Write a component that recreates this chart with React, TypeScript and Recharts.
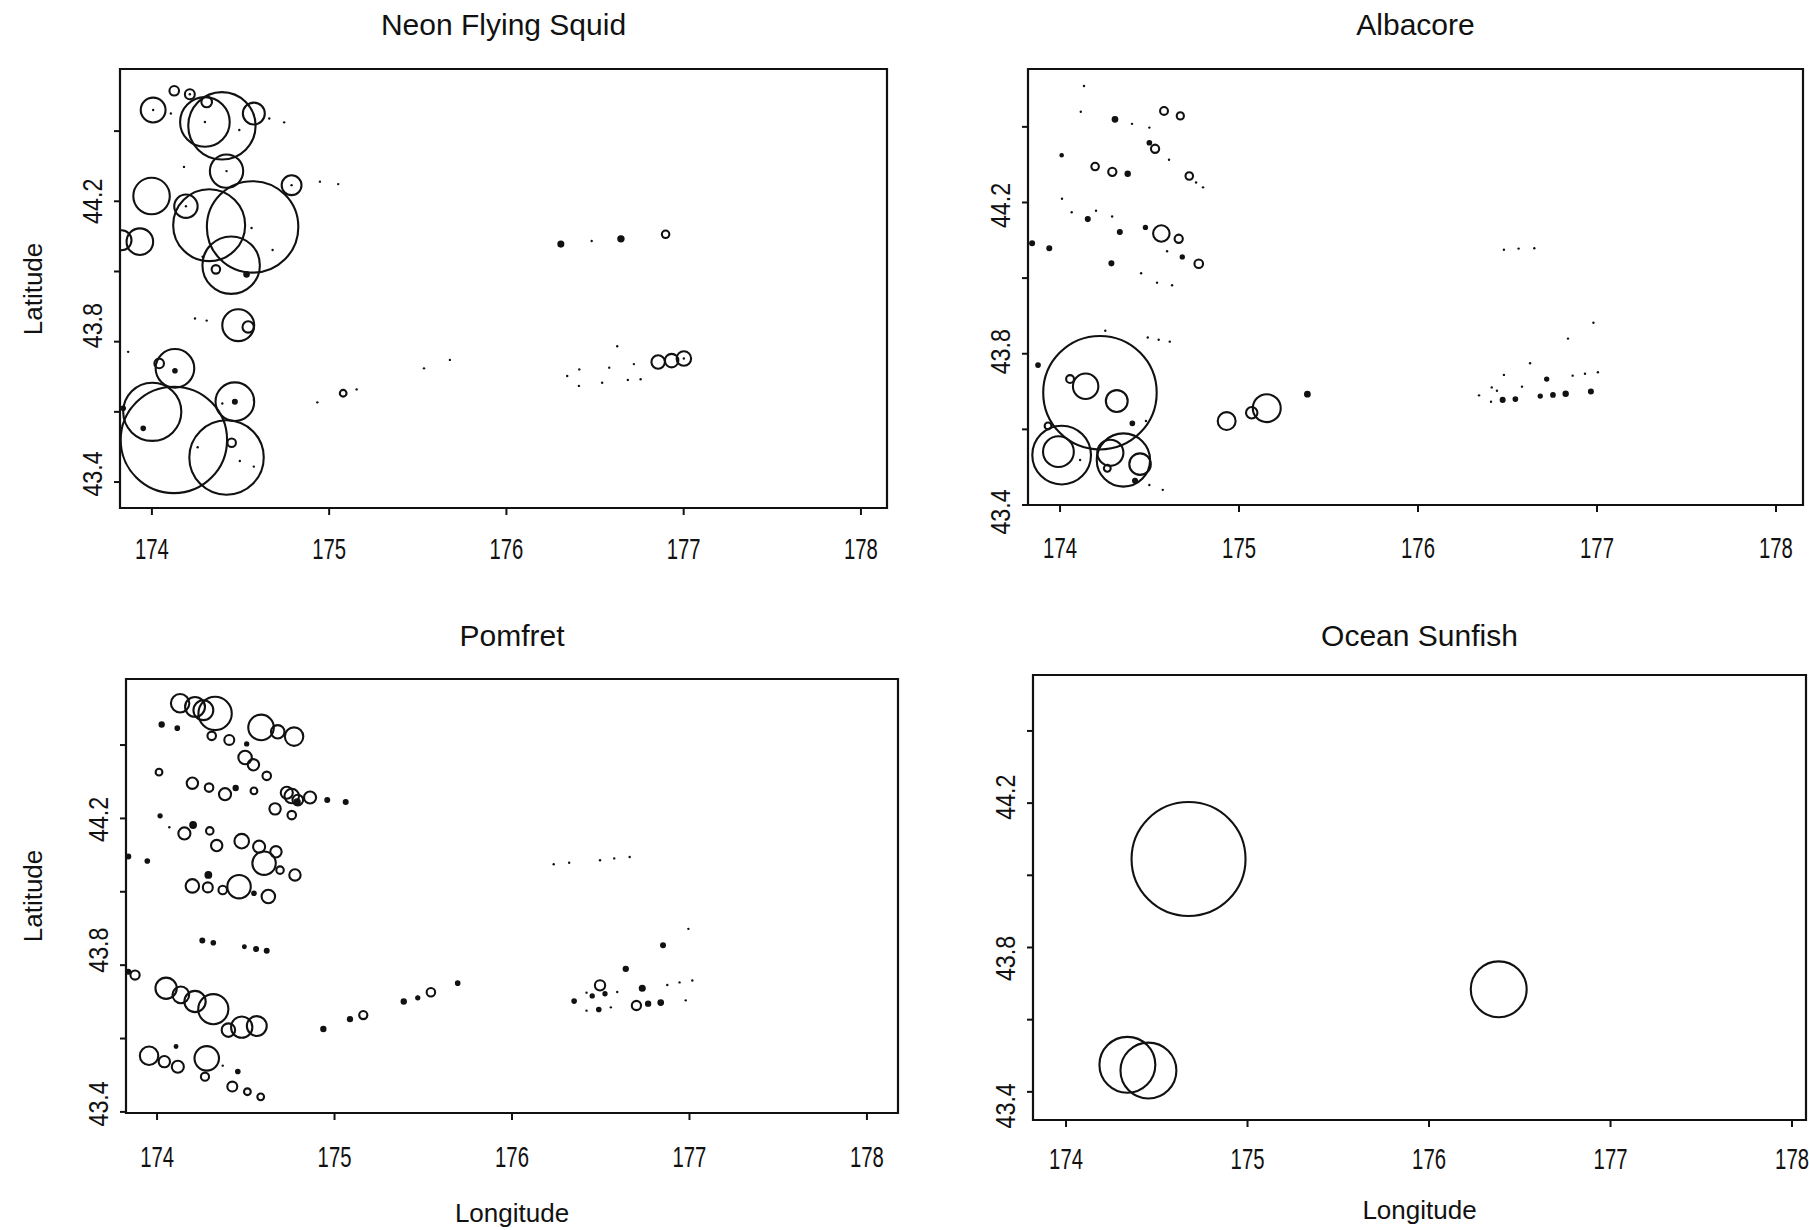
import React from 'react';
import { ScatterChart, Scatter, XAxis, YAxis, ReferenceArea } from 'recharts';

// [longitude, latitude, catch] - catch drawn as circle radius (0.01 deg of longitude)
const squid = [
  [174.126, 44.515, 2.7], [174.214, 44.505, 2.8], [174.214, 44.505, 0.9], [174.007, 44.46, 7.0],
  [174.007, 44.46, 0.5], [174.107, 44.45, 0.5], [174.299, 44.426, 14.0], [174.395, 44.415, 19.0],
  [174.309, 44.483, 3.0], [174.299, 44.426, 0.6], [174.493, 44.403, 0.5], [174.575, 44.45, 6.2],
  [174.662, 44.436, 0.5], [174.746, 44.425, 0.5], [174.181, 44.298, 0.5], [174.421, 44.286, 9.4],
  [174.421, 44.286, 0.5], [174.788, 44.246, 5.6], [174.788, 44.246, 0.6], [174.948, 44.256, 0.4],
  [175.051, 44.249, 0.4], [173.998, 44.215, 10.3], [174.192, 44.186, 6.6], [174.192, 44.186, 0.5],
  [174.323, 44.132, 20.3], [174.568, 44.127, 25.8], [174.562, 44.124, 0.6], [174.447, 44.018, 16.2],
  [174.361, 44.006, 2.4], [174.534, 43.992, 1.5], [174.681, 44.061, 0.5], [174.286, 44.042, 0.5],
  [173.932, 44.085, 7.5], [173.829, 44.089, 5.6], [174.243, 43.866, 0.5], [174.309, 43.86, 0.5],
  [174.487, 43.847, 9.0], [174.543, 43.842, 3.2], [173.866, 43.771, 0.5], [174.13, 43.724, 10.9],
  [174.13, 43.717, 1.2], [174.041, 43.738, 2.7], [174.002, 43.6, 16.4], [174.124, 43.52, 30.0],
  [174.421, 43.47, 21.0], [174.468, 43.629, 10.9], [174.468, 43.629, 1.3], [174.45, 43.512, 2.4],
  [173.951, 43.553, 1.2], [174.258, 43.499, 0.5], [174.496, 43.46, 0.5], [174.575, 43.444, 0.5],
  [174.397, 43.624, 0.5], [174.575, 43.634, 0.6], [173.838, 43.61, 1.2], [175.079, 43.653, 1.9],
  [175.155, 43.664, 0.5], [174.933, 43.627, 0.5], [176.307, 44.078, 1.6], [176.481, 44.087, 0.4],
  [176.646, 44.093, 1.7], [176.898, 44.106, 2.1], [175.535, 43.724, 0.9], [175.681, 43.748, 0.9],
  [176.625, 43.787, 0.4], [176.411, 43.721, 0.4], [176.58, 43.726, 0.4], [176.719, 43.736, 0.5],
  [176.343, 43.702, 0.4], [176.409, 43.674, 0.4], [176.54, 43.683, 0.5], [176.685, 43.691, 0.5],
  [176.757, 43.693, 0.5], [176.856, 43.742, 3.8], [176.932, 43.746, 3.8], [177.001, 43.752, 4.1],
  [177.001, 43.752, 0.5],
];

const albacore = [
  [174.134, 44.508, 0.5], [174.116, 44.44, 0.4], [174.307, 44.42, 1.5], [174.402, 44.408, 0.5],
  [174.499, 44.398, 0.5], [174.581, 44.442, 2.2], [174.672, 44.429, 2.0], [174.009, 44.325, 0.9],
  [174.196, 44.295, 2.1], [174.292, 44.281, 2.3], [174.378, 44.276, 1.4], [174.499, 44.358, 1.2],
  [174.531, 44.342, 2.3], [174.609, 44.313, 0.5], [174.722, 44.27, 2.1], [174.76, 44.253, 0.6],
  [174.799, 44.24, 0.5], [174.011, 44.21, 0.7], [174.065, 44.174, 0.5], [174.201, 44.178, 0.5],
  [174.291, 44.163, 0.6], [174.155, 44.156, 1.3], [174.334, 44.122, 1.3], [174.477, 44.134, 1.1],
  [174.566, 44.118, 4.6], [174.663, 44.104, 2.3], [174.598, 44.071, 0.6], [174.683, 44.056, 1.1],
  [174.775, 44.038, 2.4], [173.844, 44.092, 1.3], [173.94, 44.079, 1.3], [174.287, 44.039, 1.3],
  [174.453, 44.013, 0.5], [174.542, 43.988, 0.5], [174.626, 43.981, 0.5], [174.253, 43.861, 0.4],
  [174.49, 43.843, 0.5], [174.551, 43.837, 0.6], [174.613, 43.832, 0.6], [173.877, 43.77, 1.2],
  [174.223, 43.697, 31.7], [174.056, 43.733, 2.2], [174.143, 43.714, 7.1], [174.317, 43.675, 6.1],
  [174.404, 43.616, 1.2], [174.48, 43.622, 0.6], [173.933, 43.609, 1.9], [174.009, 43.532, 16.4],
  [173.991, 43.541, 8.6], [174.112, 43.519, 0.5], [174.354, 43.519, 14.9], [174.281, 43.538, 7.3],
  [174.447, 43.508, 6.0], [174.264, 43.497, 1.9], [174.419, 43.464, 1.3], [174.499, 43.453, 0.5],
  [174.574, 43.44, 0.5], [174.931, 43.622, 5.0], [175.155, 43.656, 7.8], [175.071, 43.644, 3.2],
  [175.382, 43.693, 1.5], [176.48, 44.075, 0.4], [176.562, 44.078, 0.4], [176.65, 44.079, 0.6],
  [176.98, 43.882, 0.5], [176.838, 43.84, 0.6], [176.626, 43.775, 0.4], [176.48, 43.744, 0.6],
  [176.719, 43.733, 1.1], [176.864, 43.742, 0.4], [176.933, 43.747, 0.6], [177.005, 43.751, 0.4],
  [176.412, 43.711, 0.7], [176.441, 43.702, 0.7], [176.581, 43.713, 0.5], [176.341, 43.69, 0.6],
  [176.408, 43.673, 0.6], [176.473, 43.678, 1.3], [176.544, 43.68, 1.2], [176.683, 43.688, 1.1],
  [176.754, 43.691, 1.2], [176.825, 43.694, 1.4], [176.966, 43.7, 1.3],
];

const pomfret = [
  [174.13, 44.514, 5.2], [174.214, 44.504, 5.6], [174.261, 44.495, 5.6], [174.327, 44.486, 9.4],
  [174.308, 44.425, 2.4], [174.026, 44.456, 1.4], [174.114, 44.446, 1.2], [174.407, 44.414, 2.8],
  [174.505, 44.403, 1.1], [174.586, 44.448, 7.2], [174.68, 44.436, 3.8], [174.772, 44.423, 5.2],
  [174.496, 44.366, 3.8], [174.543, 44.346, 3.2], [174.618, 44.316, 2.4], [174.011, 44.326, 1.9],
  [174.199, 44.296, 3.2], [174.293, 44.284, 2.4], [174.383, 44.266, 3.4], [174.443, 44.283, 1.4],
  [174.546, 44.275, 1.9], [174.731, 44.27, 3.4], [174.759, 44.261, 4.1], [174.793, 44.25, 3.0],
  [174.862, 44.257, 3.4], [174.789, 44.245, 1.7], [174.665, 44.226, 3.2], [174.759, 44.209, 2.4],
  [174.959, 44.25, 1.3], [175.063, 44.245, 1.3], [174.017, 44.207, 1.1], [174.069, 44.176, 0.7],
  [174.203, 44.182, 1.8], [174.154, 44.159, 3.4], [174.297, 44.166, 2.1], [174.336, 44.126, 3.2],
  [174.477, 44.138, 4.1], [174.575, 44.123, 3.4], [174.67, 44.109, 3.2], [174.603, 44.078, 6.6],
  [174.693, 44.059, 2.1], [174.777, 44.046, 3.2], [173.838, 44.096, 1.3], [173.945, 44.084, 1.2],
  [174.289, 44.046, 1.8], [174.199, 44.016, 3.8], [174.286, 44.012, 2.8], [174.37, 44.005, 2.4],
  [174.462, 44.014, 6.6], [174.546, 43.996, 1.2], [174.627, 43.987, 3.8], [174.255, 43.867, 1.3],
  [174.317, 43.861, 1.2], [174.492, 43.85, 1.0], [174.558, 43.844, 1.3], [174.618, 43.839, 1.3],
  [173.876, 43.773, 2.6], [173.838, 43.782, 1.3], [174.051, 43.737, 6.0], [174.134, 43.719, 4.7],
  [174.214, 43.701, 6.0], [174.317, 43.68, 8.5], [174.402, 43.623, 3.8], [174.477, 43.631, 6.0],
  [174.562, 43.634, 5.6], [174.937, 43.626, 1.4], [175.087, 43.653, 1.4], [175.162, 43.664, 2.3],
  [175.39, 43.701, 1.4], [175.469, 43.711, 1.1], [175.543, 43.726, 2.4], [175.694, 43.751, 1.2],
  [174.107, 43.578, 1.0], [173.955, 43.553, 5.2], [174.041, 43.537, 3.2], [174.117, 43.523, 3.4],
  [174.28, 43.546, 6.9], [174.27, 43.496, 2.3], [174.37, 43.526, 0.6], [174.455, 43.51, 1.2],
  [174.424, 43.469, 2.8], [174.509, 43.455, 1.9], [174.584, 43.441, 1.9],
  [176.235, 44.075, 0.5], [176.322, 44.079, 0.5], [176.496, 44.086, 0.5], [176.576, 44.091, 0.8],
  [176.663, 44.095, 0.5], [176.35, 43.702, 1.2], [176.42, 43.725, 0.6], [176.452, 43.716, 1.1],
  [176.496, 43.745, 2.9], [176.524, 43.722, 1.1], [176.593, 43.727, 0.6], [176.641, 43.79, 1.4],
  [176.851, 43.854, 1.3], [176.994, 43.899, 0.6], [176.734, 43.737, 1.6], [176.875, 43.746, 0.6],
  [176.944, 43.753, 0.5], [177.016, 43.758, 0.5], [176.42, 43.676, 0.5], [176.489, 43.679, 1.2],
  [176.557, 43.685, 0.6], [176.701, 43.69, 2.6], [176.767, 43.695, 1.4], [176.838, 43.698, 1.5],
  [176.979, 43.704, 0.6],
];

const sunfish = [
  [174.675, 44.045, 31.4], [176.384, 43.684, 15.4], [174.338, 43.475, 15.4], [174.454, 43.459, 15.4],
];

const lonTicks = [174, 175, 176, 177, 178];
const latTicks = [43.4, 43.6, 43.8, 44.0, 44.2, 44.4];
const latLabels = ['43.4', '43.8', '44.2'];

const FONT = '"Liberation Sans", Arial, Helvetica, sans-serif';
const INK = '#111';

type Box = { left: number; top: number; right: number; bottom: number };

const panels = [
  {
    title: 'Neon Flying Squid', rows: squid, titleY: 25,
    box: { left: 120, top: 69, right: 887, bottom: 508 },
    xDomain: [173.82, 178.147], yDomain: [43.326, 44.577],
    latShift: { '44.2': 0, '43.8': -16, '43.4': -8 } as Record<string, number>,
    xTitleY: 0, yTitle: true, tickGap: 41,
  },
  {
    title: 'Albacore', rows: albacore, titleY: 25,
    box: { left: 1028, top: 69, right: 1803, bottom: 505 },
    xDomain: [173.821, 178.151], yDomain: [43.4, 44.553],
    latShift: { '44.2': 3, '43.8': -2, '43.4': 7 } as Record<string, number>,
    xTitleY: 0, yTitle: false, tickGap: 43,
  },
  {
    title: 'Pomfret', rows: pomfret, titleY: 636,
    box: { left: 126, top: 679, right: 898, bottom: 1113 },
    xDomain: [173.825, 178.175], yDomain: [43.397, 44.58],
    latShift: { '44.2': 1, '43.8': -15, '43.4': -8 } as Record<string, number>,
    xTitleY: 1213, yTitle: true, tickGap: 44,
  },
  {
    title: 'Ocean Sunfish', rows: sunfish, titleY: 636,
    box: { left: 1033, top: 675, right: 1806, bottom: 1120 },
    xDomain: [173.818, 178.077], yDomain: [43.322, 44.555],
    latShift: { '44.2': -6, '43.8': 11, '43.4': 14 } as Record<string, number>,
    xTitleY: 1210, yTitle: false, tickGap: 39,
  },
];

const AXIS_W = 120;
const AXIS_H = 80;
const PAD = 10;

function Bubble(props: any) {
  const { cx, cy, unit } = props;
  if (cx == null || cy == null) return null;
  const z = props.payload?.z ?? props.z ?? 0;
  const r = z * unit;
  if (r < 1.6) return <circle cx={cx} cy={cy} r={1.2} fill={INK} />;
  if (r < 3.2) return <circle cx={cx} cy={cy} r={r} fill={INK} stroke={INK} strokeWidth={1.4} />;
  return <circle cx={cx} cy={cy} r={r} fill="none" stroke={INK} strokeWidth={2.1} />;
}

function LonTick(props: any) {
  const { x, y, payload } = props;
  return (
    <text
      transform={`translate(${x},${y}) scale(0.7,1)`}
      textAnchor="middle"
      dominantBaseline="central"
      fontSize={29}
      fontFamily={FONT}
      fill={INK}
    >
      {payload.value}
    </text>
  );
}

function LatTick(props: any) {
  const { x, y, payload, shift } = props;
  const label = Number(payload.value).toFixed(1);
  if (!latLabels.includes(label)) return null;
  const dy = shift[label] ?? 0;
  return (
    <text
      transform={`translate(${x},${y + dy}) rotate(-90) scale(0.86,1)`}
      textAnchor="middle"
      dominantBaseline="central"
      fontSize={27}
      fontFamily={FONT}
      fill={INK}
    >
      {label}
    </text>
  );
}

function Panel({ p }: { p: (typeof panels)[number] }) {
  const b: Box = p.box;
  const plotW = b.right - b.left;
  const plotH = b.bottom - b.top;
  const width = plotW + AXIS_W + PAD;
  const height = plotH + PAD + AXIS_H;
  const unit = plotW / (p.xDomain[1] - p.xDomain[0]) / 100;
  const data = p.rows.map(([lon, lat, z]) => ({ lon, lat, z }));
  const midX = (b.left + b.right) / 2;

  return (
    <>
      <div
        style={{
          position: 'absolute', left: midX - 200, width: 400, top: p.titleY - 17,
          textAlign: 'center', fontSize: 30, fontFamily: FONT, color: INK, lineHeight: '34px',
        }}
      >
        {p.title}
      </div>
      <div style={{ position: 'absolute', left: b.left - AXIS_W, top: b.top - PAD }}>
        <ScatterChart width={width} height={height} margin={{ top: PAD, right: PAD, bottom: 0, left: 0 }}>
          <XAxis
            type="number" dataKey="lon" domain={p.xDomain} ticks={lonTicks} allowDataOverflow
            height={AXIS_H} axisLine={false} tickSize={7} tickMargin={p.tickGap - 7}
            tickLine={{ stroke: INK, strokeWidth: 2 }} tick={<LonTick />} interval={0}
          />
          <YAxis
            type="number" dataKey="lat" domain={p.yDomain} ticks={latTicks} allowDataOverflow
            width={AXIS_W} axisLine={false} tickSize={6} tickMargin={22}
            tickLine={{ stroke: INK, strokeWidth: 2 }} tick={<LatTick shift={p.latShift} />} interval={0}
          />
          <ReferenceArea
            x1={p.xDomain[0]} x2={p.xDomain[1]} y1={p.yDomain[0]} y2={p.yDomain[1]}
            fill="none" fillOpacity={0} stroke={INK} strokeWidth={2.2}
          />
          <Scatter
            data={data} isAnimationActive={false}
            shape={(sp: any) => <Bubble {...sp} unit={unit} />}
          />
        </ScatterChart>
      </div>
      {p.xTitleY > 0 && (
        <div
          style={{
            position: 'absolute', left: midX - 150, width: 300, top: p.xTitleY - 15,
            textAlign: 'center', fontSize: 26, fontFamily: FONT, color: INK, lineHeight: '30px',
          }}
        >
          Longitude
        </div>
      )}
      {p.yTitle && (
        <div
          style={{
            position: 'absolute', left: 33 - 100, width: 200, top: (b.top + b.bottom) / 2 - 15,
            textAlign: 'center', fontSize: 26, fontFamily: FONT, color: INK, lineHeight: '30px',
            transform: 'rotate(-90deg)',
          }}
        >
          Latitude
        </div>
      )}
    </>
  );
}

export default function App() {
  return (
    <div style={{ position: 'absolute', left: 0, top: 0, width: 1809, height: 1230, background: '#fff', overflow: 'hidden' }}>
      {panels.map((p) => (
        <Panel key={p.title} p={p} />
      ))}
    </div>
  );
}
